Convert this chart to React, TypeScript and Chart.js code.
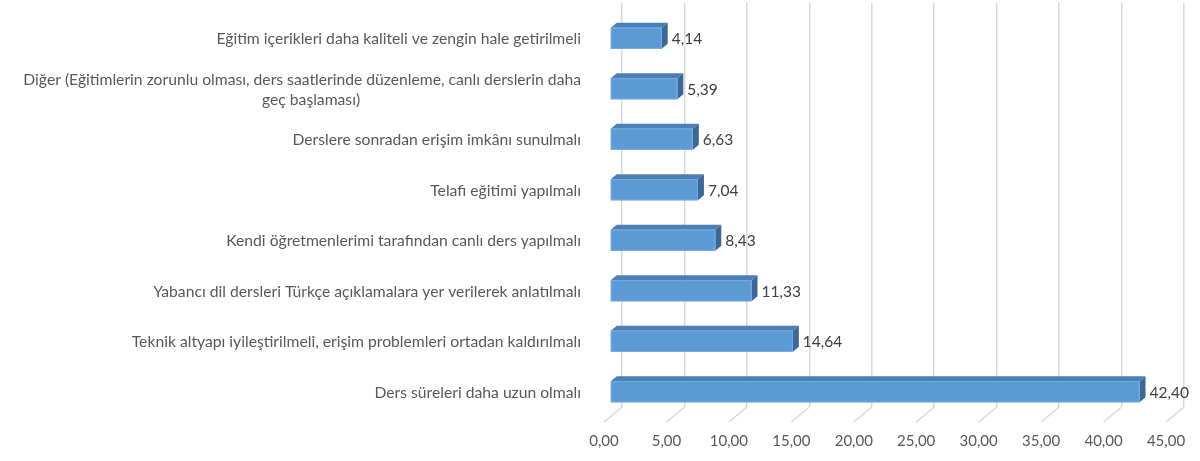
import React, { useEffect, useRef } from 'react';
import { Chart, registerables } from 'chart.js';

Chart.register(...registerables);

const categories: (string | string[])[] = [
  'Eğitim içerikleri daha kaliteli ve zengin hale getirilmeli',
  ['Diğer (Eğitimlerin zorunlu olması, ders saatlerinde düzenleme, canlı derslerin daha', 'geç başlaması)'],
  'Derslere sonradan erişim imkânı sunulmalı',
  'Telafi eğitimi yapılmalı',
  'Kendi öğretmenlerimi tarafından canlı ders yapılmalı',
  'Yabancı dil dersleri Türkçe açıklamalara yer verilerek anlatılmalı',
  'Teknik altyapı iyileştirilmeli, erişim problemleri ortadan kaldırılmalı',
  'Ders süreleri daha uzun olmalı',
];
const values: number[] = [4.14, 5.39, 6.63, 7.04, 8.43, 11.33, 14.64, 42.4];
const xMin = 0;
const xMax = 45;
const xStep = 5;

const FONT = 'Lato';
const CAT_SIZE = 15.7;
const DEPTH_X = -18;
const DEPTH_Y = 15;
const WRAP_SHIFT = 219; // second wrapped line sits left of the right edge

const fmt = (v: number) => v.toFixed(2).replace('.', ',');

const spaceCount = (() => {
  try {
    const c = document.createElement('canvas').getContext('2d')!;
    c.font = `${CAT_SIZE}px ${FONT}`;
    const w = c.measureText('a a').width - c.measureText('aa').width;
    return Math.max(0, Math.round(WRAP_SHIFT / (w || 4)));
  } catch (e) {
    return 55;
  }
})();

const floorPlugin = {
  id: 'floorLines',
  beforeDatasetsDraw(chart: any) {
    const { ctx, chartArea } = chart;
    const xs = chart.scales.x;
    ctx.save();
    ctx.strokeStyle = '#d9d9d9';
    ctx.lineWidth = 1.5;
    xs.ticks.forEach((t: any) => {
      const px = xs.getPixelForValue(t.value);
      ctx.beginPath();
      ctx.moveTo(px, chartArea.bottom);
      ctx.lineTo(px + DEPTH_X, chartArea.bottom + DEPTH_Y);
      ctx.stroke();
    });
    ctx.restore();
  },
};

const bars3dPlugin = {
  id: 'bars3d',
  afterDatasetsDraw(chart: any) {
    const { ctx } = chart;
    const meta = chart.getDatasetMeta(0);
    const ds = chart.data.datasets[0];
    const fx = (2 / 3) * DEPTH_X;
    const fy = (2 / 3) * DEPTH_Y;
    const dx = -(1 / 3) * DEPTH_X;
    const dy = -(1 / 3) * DEPTH_Y;
    ctx.save();
    meta.data.forEach((el: any, i: number) => {
      const p = el.getProps(['x', 'y', 'base', 'height'], true);
      const l = p.base + fx;
      const r = p.x + fx;
      const t = p.y - p.height / 2 + fy;
      const b = p.y + p.height / 2 + fy;
      // top face
      ctx.fillStyle = '#4a7fb8';
      ctx.beginPath();
      ctx.moveTo(l, t);
      ctx.lineTo(l + dx, t + dy);
      ctx.lineTo(r + dx, t + dy);
      ctx.lineTo(r, t);
      ctx.closePath();
      ctx.fill();
      // right face
      ctx.fillStyle = '#3a6897';
      ctx.beginPath();
      ctx.moveTo(r, t);
      ctx.lineTo(r + dx, t + dy);
      ctx.lineTo(r + dx, b + dy);
      ctx.lineTo(r, b);
      ctx.closePath();
      ctx.fill();
      // front face
      ctx.fillStyle = '#5b9bd5';
      ctx.fillRect(l, t, r - l, b - t);
      ctx.strokeStyle = 'rgba(120,170,225,0.9)';
      ctx.lineWidth = 1;
      ctx.strokeRect(l + 0.5, t + 0.5, r - l - 1, b - t - 1);
      // value label
      ctx.fillStyle = '#404040';
      ctx.font = `15.5px ${FONT}`;
      ctx.textAlign = 'left';
      ctx.textBaseline = 'middle';
      ctx.fillText(fmt(ds.data[i]), r + dx + 4, (t + b) / 2 + 1);
    });
    ctx.restore();
  },
};

export default function App() {
  const ref = useRef<HTMLCanvasElement | null>(null);
  useEffect(() => {
    if (!ref.current) return;
    const chart = new Chart(ref.current, {
      type: 'bar',
      data: {
        labels: categories as any,
        datasets: [
          {
            data: values,
            backgroundColor: 'rgba(0,0,0,0)',
            borderWidth: 0,
            categoryPercentage: 1,
            barPercentage: 0.42,
          },
        ],
      },
      options: {
        indexAxis: 'y',
        animation: false,
        responsive: true,
        maintainAspectRatio: false,
        layout: { padding: { top: 3, right: 16, left: 0, bottom: 0 } },
        plugins: {
          legend: { display: false },
          tooltip: { enabled: false },
          title: { display: false },
        },
        scales: {
          x: {
            min: xMin,
            max: xMax,
            grid: { display: true, color: '#d9d9d9', lineWidth: 1.5, drawTicks: false },
            border: { display: false },
            ticks: {
              stepSize: xStep,
              padding: 25,
              labelOffset: DEPTH_X,
              color: '#595959',
              font: { family: FONT, size: 15 },
              callback: (v: any) => fmt(Number(v)),
            },
            afterFit: (s: any) => {
              s.height = 54;
              s.paddingLeft = 0;
              s.paddingRight = 0;
            },
          },
          y: {
            grid: { display: false, drawTicks: false },
            border: { display: false },
            ticks: {
              padding: 41,
              labelOffset: (2 / 3) * DEPTH_Y + 1,
              color: '#595959',
              font: { family: FONT, size: CAT_SIZE, lineHeight: 1.3 },
              autoSkip: false,
              callback: function (this: any, v: any) {
                const raw = categories[Number(v)];
                if (Array.isArray(raw)) {
                  return [raw[0], raw[1] + ' '.repeat(spaceCount)];
                }
                return raw;
              },
            },
            afterFit: (s: any) => {
              s.width = 622;
              s.paddingTop = 0;
              s.paddingBottom = 0;
            },
          },
        },
      },
      plugins: [floorPlugin, bars3dPlugin],
    });
    return () => chart.destroy();
  }, []);
  return (
    <div style={{ position: 'absolute', left: 0, top: 0, width: 1200, height: 461 }}>
      <canvas ref={ref} />
    </div>
  );
}
